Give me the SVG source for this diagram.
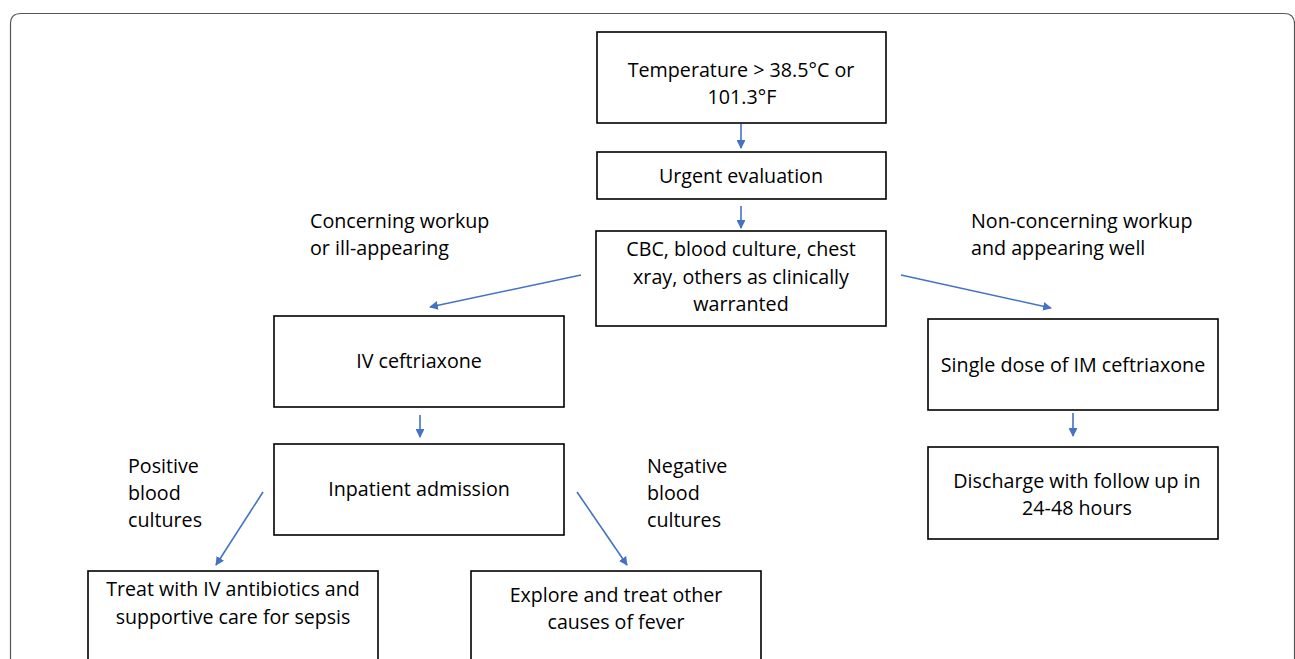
<svg xmlns="http://www.w3.org/2000/svg" width="1295" height="659" viewBox="0 0 1295 659">
<style>
.box{fill:#fff;stroke:#000;stroke-width:1.6}
.t{font-family:"Open Sans","Noto Sans","Liberation Sans",sans-serif;font-size:19.7px;fill:#000;text-anchor:middle}
.l{font-family:"Open Sans","Noto Sans","Liberation Sans",sans-serif;font-size:19.7px;fill:#000}
.n{font-family:"Open Sans","Noto Sans","Liberation Sans",sans-serif;font-size:19.6px;fill:#000;text-anchor:middle}
.c{stroke:#4472C4;stroke-width:1.6;fill:none;marker-end:url(#ah)}
</style>
<defs>
<marker id="ah" viewBox="0 0 10 10" refX="9" refY="5" markerWidth="5.5" markerHeight="5.5" orient="auto" markerUnits="strokeWidth">
<path d="M0,0 L10,5 L0,10 z" fill="#4472C4"/>
</marker>
</defs>
<rect x="0" y="0" width="1295" height="659" fill="#fff"/>
<path d="M10.5,675 L10.5,24 Q10.5,13.5 21,13.5 L1284,13.5 Q1294.5,13.5 1294.5,24 L1294.5,675" fill="none" stroke="#555" stroke-width="1.2"/>
<g id="connectors">
<line class="c" x1="741" y1="124" x2="741" y2="148"/>
<line class="c" x1="741" y1="206" x2="741" y2="228"/>
<line class="c" x1="581" y1="275" x2="430" y2="307"/>
<line class="c" x1="901" y1="275" x2="1051" y2="308"/>
<line class="c" x1="420" y1="415" x2="420" y2="437"/>
<line class="c" x1="1073" y1="413" x2="1073" y2="436"/>
<line class="c" x1="263" y1="492" x2="216" y2="565"/>
<line class="c" x1="577" y1="492" x2="627" y2="565"/>
</g>
<g id="n-temp"><rect class="box" x="597" y="32" width="289" height="91"/><text class="t" x="741" y="77">Temperature &gt; 38.5°C or</text><text class="t" x="742" y="104">101.3°F</text></g>
<g id="n-urgent"><rect class="box" x="597" y="152" width="289" height="47"/><text class="t" x="741" y="183">Urgent evaluation</text></g>
<g id="n-cbc"><rect class="box" x="596" y="231" width="290" height="95"/><text class="t" x="741" y="256">CBC, blood culture, chest</text><text class="t" x="741" y="284">xray, others as clinically</text><text class="t" x="741" y="311">warranted</text></g>
<g id="n-iv"><rect class="box" x="274" y="316" width="290" height="91"/><text class="t" x="419" y="368">IV ceftriaxone</text></g>
<g id="n-inpatient"><rect class="box" x="274" y="444" width="290" height="91"/><text class="t" x="419" y="496">Inpatient admission</text></g>
<g id="n-single"><rect class="box" x="928" y="319" width="290" height="91"/><text class="t" x="1073" y="372">Single dose of IM ceftriaxone</text></g>
<g id="n-discharge"><rect class="box" x="928" y="447" width="290" height="92"/><text class="t" x="1077" y="488">Discharge with follow up in</text><text class="t" x="1077" y="515">24-48 hours</text></g>
<g id="n-treat"><rect class="box" x="88" y="571" width="290" height="100"/><text class="n" x="233" y="596">Treat with IV antibiotics and</text><text class="n" x="233" y="624">supportive care for sepsis</text></g>
<g id="n-explore"><rect class="box" x="471" y="571" width="290" height="100"/><text class="n" x="616" y="602">Explore and treat other</text><text class="n" x="616" y="629">causes of fever</text></g>
<g id="labels">
<text class="l" x="310" y="228">Concerning workup</text>
<text class="l" x="310" y="255">or ill-appearing</text>
<text class="l" x="971" y="228">Non-concerning workup</text>
<text class="l" x="971" y="255">and appearing well</text>
<text class="l" x="128" y="473">Positive</text>
<text class="l" x="128" y="500">blood</text>
<text class="l" x="128" y="527">cultures</text>
<text class="l" x="647" y="473">Negative</text>
<text class="l" x="647" y="500">blood</text>
<text class="l" x="647" y="527">cultures</text>
</g>
</svg>
